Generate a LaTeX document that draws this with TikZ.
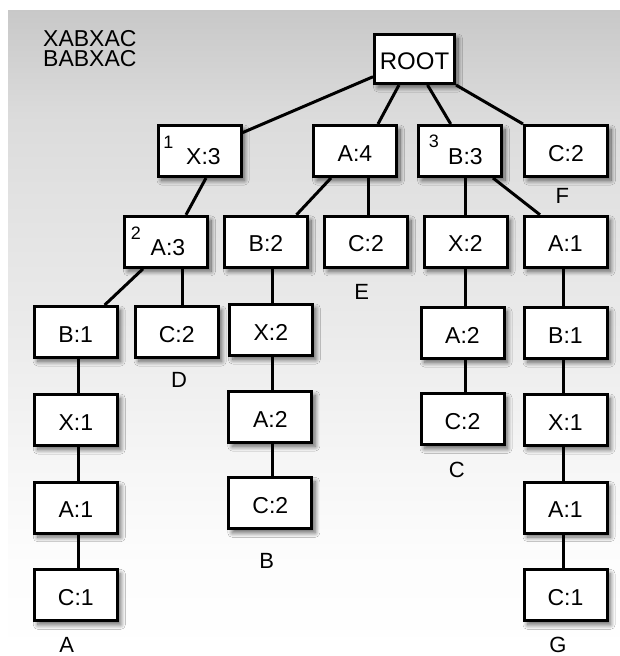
\documentclass[tikz,border=0pt]{standalone}
\usepackage{fontspec}
\setmainfont{Liberation Sans}
\usetikzlibrary{shadows.blur}

% soft grey panel, darker at the top and fading to white towards the bottom
\pgfdeclareverticalshading{panelshade}{100bp}{%
  rgb(0bp)=(1,1,1); rgb(25bp)=(1,1,1);
  rgb(32.7bp)=(0.99,0.99,0.99);
  rgb(39.7bp)=(0.965,0.965,0.965);
  rgb(50.5bp)=(0.92,0.92,0.92);
  rgb(60.6bp)=(0.885,0.885,0.885);
  rgb(66.8bp)=(0.86,0.86,0.86);
  rgb(75bp)=(0.785,0.785,0.785); rgb(100bp)=(0.785,0.785,0.785)}

\begin{document}
\begin{tikzpicture}[x=1pt,y=-1pt,
  tbox/.style={draw, line width=3pt, fill=white,
    minimum width=83pt, minimum height=51pt, inner sep=0pt,
    text height=20pt, text depth=0pt,
    font=\fontsize{23}{27}\selectfont,
    blur shadow={shadow xshift=3.5pt, shadow yshift=-4pt,
      shadow blur radius=4.5pt, shadow blur steps=12, shadow opacity=60}},
  supbox/.style={tbox, text height=27pt},
  supnum/.style={inner sep=0pt, font=\fontsize{18}{20}\selectfont},
  tag/.style={inner sep=0pt, font=\fontsize{22}{26}\selectfont},
  seq/.style={inner sep=0pt, font=\fontsize{23}{26}\selectfont},
  link/.style={line width=3pt}]

\useasboundingbox (0,0) rectangle (620,656);
\shade[shading=panelshade] (8,10) rectangle (620,656);

% the two strings
\node[seq, anchor=base west] (s1) at (43,46) {XABXAC};
\node[seq, anchor=base west] (s2) at (43,66.7) {BABXAC};

% root
\node[tbox, minimum width=80pt, minimum height=49pt,
      font=\fontsize{24}{28}\selectfont] (root) at (414.5,59) {ROOT};

% level 1
\node[supbox] (X3) at (199.5,151) {\hspace*{8pt}X:3};
\node[tbox]   (A4) at (355,151)   {A:4};
\node[supbox] (B3) at (460,151)   {\hspace*{11pt}B:3};
\node[tbox]   (C2f) at (566,151)  {C:2};

% level 2
\node[supbox] (A3) at (166,241.8)   {\hspace*{4pt}A:3};
\node[tbox]   (B2) at (266,241.8)   {B:2};
\node[tbox]   (C2e) at (366,241.8)  {C:2};
\node[tbox]   (X2r) at (465.5,241.8) {X:2};
\node[tbox]   (A1r) at (565.5,241.8) {A:1};

% level 3
\node[tbox] (B1l) at (75.7,332)  {B:1};
\node[tbox] (C2d) at (176.7,332) {C:2};
\node[tbox] (X2m) at (270.8,330) {X:2};
\node[tbox] (A2r) at (462.5,333) {A:2};
\node[tbox] (B1r) at (565.5,333) {B:1};

% level 4
\node[tbox] (X1l) at (75.8,420)  {X:1};
\node[tbox] (A2m) at (270.3,417) {A:2};
\node[tbox] (C2c) at (462.5,419.3) {C:2};
\node[tbox] (X1r) at (565.5,420) {X:1};

% level 5
\node[tbox] (A1l) at (75.8,507.7)  {A:1};
\node[tbox] (C2b) at (270.3,503.3) {C:2};
\node[tbox] (A1s) at (565.5,507.5) {A:1};

% level 6
\node[tbox] (C1l) at (75.8,595.3)  {C:1};
\node[tbox] (C1r) at (565.5,595.3) {C:1};

% small indices
\node[supnum] (n1) at (168.5,142) {1};
\node[supnum] (n2) at (136,233.7) {2};
\node[supnum] (n3) at (434,141)   {3};

% leaf tags
\node[tag] (tA) at (66.7,645.3) {A};
\node[tag] (tB) at (266.7,560.7) {B};
\node[tag] (tC) at (456.7,470) {C};
\node[tag] (tD) at (179,380) {D};
\node[tag] (tE) at (361.7,291.7) {E};
\node[tag] (tF) at (562.3,196) {F};
\node[tag] (tG) at (558,645.3) {G};

% x positions of the vertical chains
\coordinate (colL) at (78.3,0);
\coordinate (colM) at (272.3,0);
\coordinate (colR) at (465,0);
\coordinate (colS) at (563.3,0);
\coordinate (colD) at (182,0);
\coordinate (colE) at (368,0);

% edges from the root
\draw[link] (root) -- (X3);
\draw[link] ([xshift=-15.5pt]root.south) -- ([xshift=23pt]A4.north);
\draw[link] ([xshift=13pt]root.south) -- ([xshift=-9.3pt]B3.north);
\draw[link] (root.south east) -- (C2f.north west);

% edges below level 1
\draw[link] ([xshift=6.5pt]X3.south) -- ([xshift=20pt]A3.north);
\draw[link] ([xshift=-24pt]A4.south) -- ([xshift=30.5pt]B2.north);
\draw[link] (A4.south -| colE) -- (C2e.north -| colE);
\draw[link] (B3.south -| colR) -- (X2r.north -| colR);
\draw[link] ([xshift=33pt]B3.south) -- ([xshift=-25.5pt]A1r.north);

% edges below level 2
\draw[link] ([xshift=-23pt]A3.south) -- ([xshift=29pt]B1l.north);
\draw[link] (A3.south -| colD) -- (C2d.north -| colD);
\draw[link] (B2.south -| colM) -- (X2m.north -| colM);
\draw[link] (X2r.south -| colR) -- (A2r.north -| colR);
\draw[link] (A1r.south -| colS) -- (B1r.north -| colS);

% vertical chains
\draw[link] (B1l.south -| colL) -- (X1l.north -| colL);
\draw[link] (X1l.south -| colL) -- (A1l.north -| colL);
\draw[link] (A1l.south -| colL) -- (C1l.north -| colL);
\draw[link] (X2m.south -| colM) -- (A2m.north -| colM);
\draw[link] (A2m.south -| colM) -- (C2b.north -| colM);
\draw[link] (A2r.south -| colR) -- (C2c.north -| colR);
\draw[link] (B1r.south -| colS) -- (X1r.north -| colS);
\draw[link] (X1r.south -| colS) -- (A1s.north -| colS);
\draw[link] (A1s.south -| colS) -- (C1r.north -| colS);
\end{tikzpicture}
\end{document}
